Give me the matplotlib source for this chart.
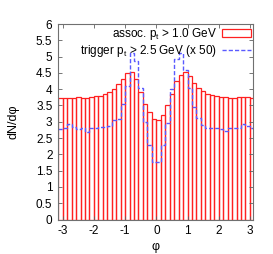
import numpy as np
import matplotlib
matplotlib.use("Agg")
import matplotlib.pyplot as plt

# histogram: 44 bins over [-pi, pi]
n_bins = 44
phi_edges = np.linspace(-np.pi, np.pi, n_bins + 1)

# assoc. pt > 1.0 GeV
assoc = [3.72, 3.73, 3.74, 3.73, 3.75, 3.74, 3.74, 3.76, 3.78, 3.80, 3.85,
         3.92, 4.02, 4.15, 4.32, 4.50, 4.52, 4.30, 3.92, 3.55, 3.30, 3.08,
         3.06, 3.20, 3.50, 3.85, 4.25, 4.42, 4.52, 4.40, 4.20, 4.05, 3.95,
         3.86, 3.81, 3.78, 3.76, 3.75, 3.74, 3.74, 3.75, 3.76, 3.76, 3.74]

# trigger pt > 2.5 GeV, scaled x 50
trigger = [2.78, 2.80, 2.92, 2.84, 2.78, 2.80, 2.70, 2.82, 2.80, 2.85, 2.85,
           2.88, 3.05, 3.08, 3.55, 4.10, 5.10, 4.85, 4.05, 3.00, 2.30, 1.75,
           1.75, 2.28, 2.95, 4.02, 4.94, 5.10, 4.60, 4.05, 3.45, 3.10, 2.90,
           2.82, 2.80, 2.80, 2.78, 2.72, 2.80, 2.82, 2.82, 2.92, 2.88, 2.82]

x_ticks = [-3, -2, -1, 0, 1, 2, 3]
y_ticks = np.arange(0, 6.01, 0.5)

plt.rcParams['font.family'] = ['Liberation Sans', 'DejaVu Sans']

fig = plt.figure(figsize=(2.73, 2.54), dpi=100)
ax = fig.add_axes([0.2125, 0.1358, 0.7145, 0.7697])

centers = 0.5 * (phi_edges[:-1] + phi_edges[1:])
width = phi_edges[1] - phi_edges[0]
bars = ax.bar(centers, assoc, width=width, fill=False, edgecolor='#ff2020',
              linewidth=0.9, label=r'assoc. p$_\mathregular{t}$ > 1.0 GeV')
steps = ax.stairs(trigger, phi_edges, baseline=None, color='#5a5aff', linewidth=1.0,
                  linestyle=(0, (3, 1.5)),
                  label=r'trigger p$_\mathregular{t}$ > 2.5 GeV (x 50)')

ax.set_xlim(-3.15, 3.1)
ax.set_ylim(0, 6)
ax.set_xticks(x_ticks)
ax.set_xticklabels([str(t) for t in x_ticks])
ax.set_yticks(y_ticks)
ax.set_yticklabels(['%g' % t for t in y_ticks])
ax.tick_params(direction='in', length=3, width=0.6, color='#606060',
               top=True, right=True, labelsize=8.5, pad=4)
for s in ax.spines.values():
    s.set_color('#707070')
    s.set_linewidth(0.8)

ax.set_xlabel('φ', fontsize=9, labelpad=3)
ax.set_ylabel('dN/dφ', fontsize=9, labelpad=12)

ax.legend(handles=[bars, steps], loc='upper right', markerfirst=False,
          frameon=False, fontsize=8.5, handlelength=2.4, handletextpad=0.5,
          labelspacing=0.05, borderaxespad=0.1, borderpad=0.1)

fig.savefig('out.png', dpi=100)
